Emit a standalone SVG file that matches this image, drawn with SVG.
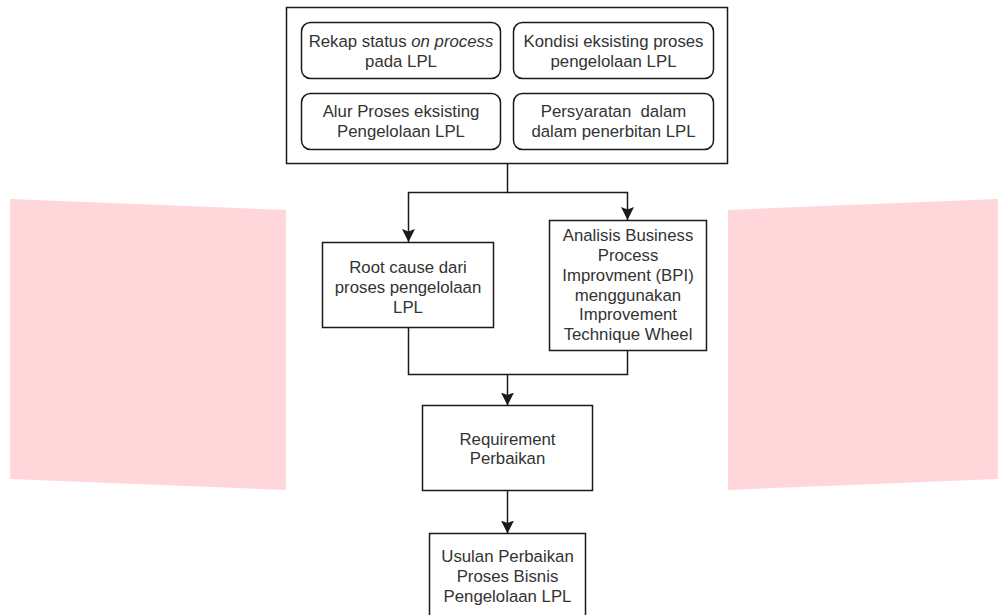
<svg xmlns="http://www.w3.org/2000/svg" width="998" height="615" viewBox="0 0 998 615">
<style>
.box{fill:#fff;stroke:#1a1a1a;stroke-width:1.5}
.t{font-family:"Liberation Sans",Arial,sans-serif;font-size:16.8px;fill:#333;text-anchor:middle}
.c{fill:none;stroke:#1a1a1a;stroke-width:1.5}
.bg{fill:#FFD6D9}
</style>
<defs>
<marker id="ah" viewBox="0 0 13 13" refX="13" refY="6.5" markerWidth="13" markerHeight="13" markerUnits="userSpaceOnUse" orient="auto">
<path d="M0,0 L13,6.5 L0,13 L2.5,6.5 Z" fill="#1a1a1a"/>
</marker>
</defs>
<polygon class="bg" points="10,199 286,210 286,490 10,479"/>
<polygon class="bg" points="728,210 998,199 998,479 728,490"/>
<g id="group-top">
<rect class="box" x="286.5" y="7.5" width="441" height="156"/>
<g id="n1"><rect class="box" x="301.5" y="22.5" width="199" height="56" rx="9"/>
<text class="t" x="401" y="47">Rekap status <tspan font-style="italic">on process</tspan></text>
<text class="t" x="401" y="67">pada LPL</text></g>
<g id="n2"><rect class="box" x="513.5" y="22.5" width="200" height="56" rx="9"/>
<text class="t" x="613.5" y="47">Kondisi eksisting proses</text>
<text class="t" x="613.5" y="67">pengelolaan LPL</text></g>
<g id="n3"><rect class="box" x="301.5" y="93.5" width="199" height="56" rx="9"/>
<text class="t" x="401" y="117">Alur Proses eksisting</text>
<text class="t" x="401" y="137">Pengelolaan LPL</text></g>
<g id="n4"><rect class="box" x="513.5" y="93.5" width="200" height="56" rx="9"/>
<text class="t" x="613.5" y="117">Persyaratan&#160; dalam</text>
<text class="t" x="613.5" y="137">dalam penerbitan LPL</text></g>
</g>
<g id="connectors">
<path class="c" d="M507.5,163.5 V192.5 H408.5 V242" marker-end="url(#ah)"/>
<path class="c" d="M507.5,192.5 H627.5 V220" marker-end="url(#ah)"/>
<path class="c" d="M408.5,327.5 V374.5 H627.5 V350.5"/>
<path class="c" d="M507.5,374.5 V405.5" marker-end="url(#ah)"/>
<path class="c" d="M507.5,490.5 V533.5" marker-end="url(#ah)"/>
</g>
<g id="n5"><rect class="box" x="322.5" y="242.5" width="171" height="85"/>
<text class="t" x="408" y="273">Root cause dari</text>
<text class="t" x="408" y="293">proses pengelolaan</text>
<text class="t" x="408" y="313">LPL</text></g>
<g id="n6"><rect class="box" x="549.5" y="220.5" width="157" height="130"/>
<text class="t" x="628" y="241">Analisis Business</text>
<text class="t" x="628" y="261">Process</text>
<text class="t" x="628" y="281">Improvment (BPI)</text>
<text class="t" x="628" y="300.5">menggunakan</text>
<text class="t" x="628" y="320">Improvement</text>
<text class="t" x="628" y="340">Technique Wheel</text></g>
<g id="n7"><rect class="box" x="422.5" y="405.5" width="170" height="85"/>
<text class="t" x="507.5" y="445">Requirement</text>
<text class="t" x="507.5" y="464">Perbaikan</text></g>
<g id="n8"><rect class="box" x="429.5" y="533.5" width="156" height="95"/>
<text class="t" x="507.5" y="562">Usulan Perbaikan</text>
<text class="t" x="507.5" y="582">Proses Bisnis</text>
<text class="t" x="507.5" y="602">Pengelolaan LPL</text></g>
</svg>
